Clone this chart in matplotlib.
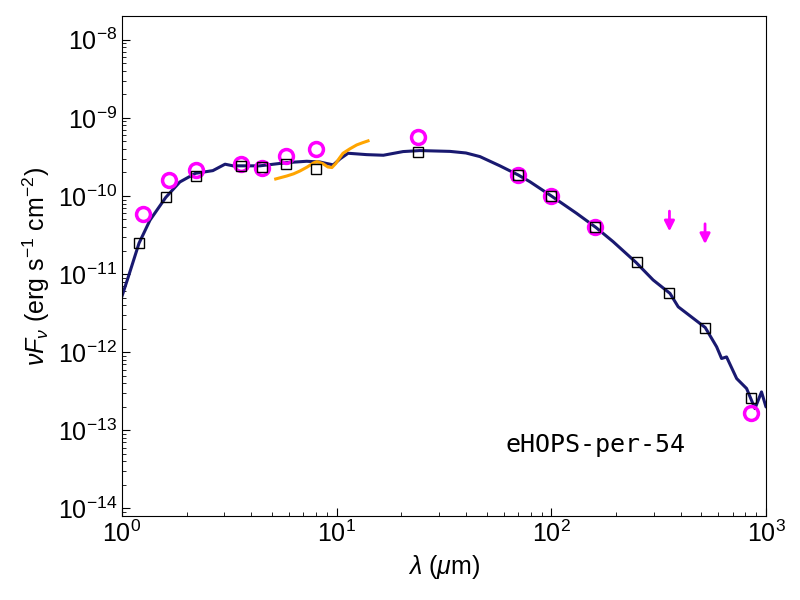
import numpy as np
import matplotlib
matplotlib.use("Agg")
import matplotlib.pyplot as plt

plt.rcParams['font.family'] = ['Liberation Sans', 'DejaVu Sans']
plt.rcParams['mathtext.fontset'] = 'custom'
plt.rcParams['mathtext.rm'] = 'Liberation Sans'
plt.rcParams['mathtext.it'] = 'Liberation Sans:italic'
plt.rcParams['mathtext.bf'] = 'Liberation Sans:bold'

# observed photometry (magenta circles)
obs_wave = [1.25, 1.65, 2.2, 3.6, 4.5, 5.8, 8.0, 24.0, 70.0, 100.0, 160.0, 850.0]
obs_flux = [5.9e-11, 1.6e-10, 2.15e-10, 2.57e-10, 2.3e-10, 3.26e-10, 4.0e-10,
            5.7e-10, 1.86e-10, 1.0e-10, 4.0e-11, 1.65e-13]

# upper limits (arrows)
lim_wave = [355.0, 520.0]
lim_flux = [6.4e-11, 4.4e-11]

# model photometry (black squares)
mod_wave = [1.2, 1.6, 2.2, 3.6, 4.5, 5.8, 8.0, 24.0, 70.0, 100.0, 160.0,
            250.0, 355.0, 520.0, 850.0]
mod_flux = [2.48e-11, 9.6e-11, 1.79e-10, 2.43e-10, 2.38e-10, 2.57e-10, 2.2e-10,
            3.63e-10, 1.86e-10, 1.0e-10, 3.97e-11, 1.41e-11, 5.66e-12,
            2.07e-12, 2.63e-13]

# IRS spectrum (orange)
irs_wave = [5.2, 5.5, 5.85, 6.3, 6.75, 7.3, 7.8, 8.1, 8.6, 9.1, 9.5, 9.9,
            10.3, 10.7, 11.5, 12.4, 13.2, 14.0]
irs_flux = [1.65e-10, 1.72e-10, 1.8e-10, 1.92e-10, 2.09e-10, 2.35e-10, 2.65e-10,
            2.75e-10, 2.6e-10, 2.35e-10, 2.31e-10, 2.6e-10, 3.05e-10, 3.52e-10,
            4.0e-10, 4.5e-10, 4.8e-10, 5.07e-10]

# best-fit model SED (navy)
sed_wave = [1.0, 1.07, 1.2, 1.35, 1.6, 1.86, 2.2, 2.65, 3.02, 3.29, 4.39, 5.85,
            7.25, 8.36, 9.0, 9.64, 10.4, 11.3, 12.5, 13.8, 16.5, 20.4, 24.4,
            33.7, 40.0, 46.5, 57.6, 70.0, 79.5, 100.0, 131.0, 161.0, 194.0,
            248.0, 298.0, 357.0, 390.0, 521.0, 589.0, 621.0, 655.0, 730.0,
            812.0, 888.0, 953.0, 1000.0, 1050.0]
sed_flux = [5.22e-12, 9.2e-12, 2.48e-11, 4.9e-11, 9.6e-11, 1.51e-10, 1.95e-10,
            2.11e-10, 2.55e-10, 2.43e-10, 2.43e-10, 2.67e-10, 2.78e-10, 2.72e-10,
            2.6e-10, 2.5e-10, 3.0e-10, 3.52e-10, 3.45e-10, 3.38e-10, 3.32e-10,
            3.7e-10, 3.81e-10, 3.72e-10, 3.55e-10, 3.19e-10, 2.43e-10, 1.86e-10,
            1.52e-10, 1.0e-10, 6.0e-11, 3.97e-11, 2.6e-11, 1.41e-11, 8.4e-12,
            5.66e-12, 3.81e-12, 2.07e-12, 1.17e-12, 8.3e-13, 8.7e-13, 4.6e-13,
            3.43e-13, 1.9e-13, 3.1e-13, 1.99e-13, 2.5e-13]

source_name = "eHOPS-per-54"

fig = plt.figure(figsize=(8, 6), dpi=100)
ax = fig.add_axes([0.1525, 0.14, 0.805, 0.833])

ax.plot(sed_wave, sed_flux, color='#191970', lw=2.2, zorder=2)
ax.plot(irs_wave, irs_flux, color='orange', lw=2.2, zorder=3)
ax.plot(obs_wave, obs_flux, 'o', ms=10, mfc='none', mec='magenta', mew=2.5, zorder=4)
ax.plot(mod_wave, mod_flux, 's', ms=7, mfc='none', mec='black', mew=1.0, zorder=5)

for w, f in zip(lim_wave, lim_flux):
    ax.annotate('', xy=(w, f * 0.55), xytext=(w, f),
                arrowprops=dict(arrowstyle='-|>', color='magenta', lw=2,
                                mutation_scale=15, shrinkA=0, shrinkB=0))

ax.set_xscale('log')
ax.set_yscale('log')
ax.set_xlim(1, 1000)
ax.set_ylim(8e-15, 2e-8)

ax.tick_params(which='both', direction='in', top=False, right=False)
ax.tick_params(which='major', length=6, labelsize=18)
ax.tick_params(which='minor', length=3)

ax.set_xlabel(r'$\lambda$ ($\mu$m)', fontsize=18)
ax.set_ylabel(r'$\nu F_\nu$ (erg s$^{-1}$ cm$^{-2}$)', fontsize=18)

ax.text(0.595, 0.128, source_name, transform=ax.transAxes,
        family='DejaVu Sans Mono', fontsize=18)

fig.savefig('out.png', dpi=100)
